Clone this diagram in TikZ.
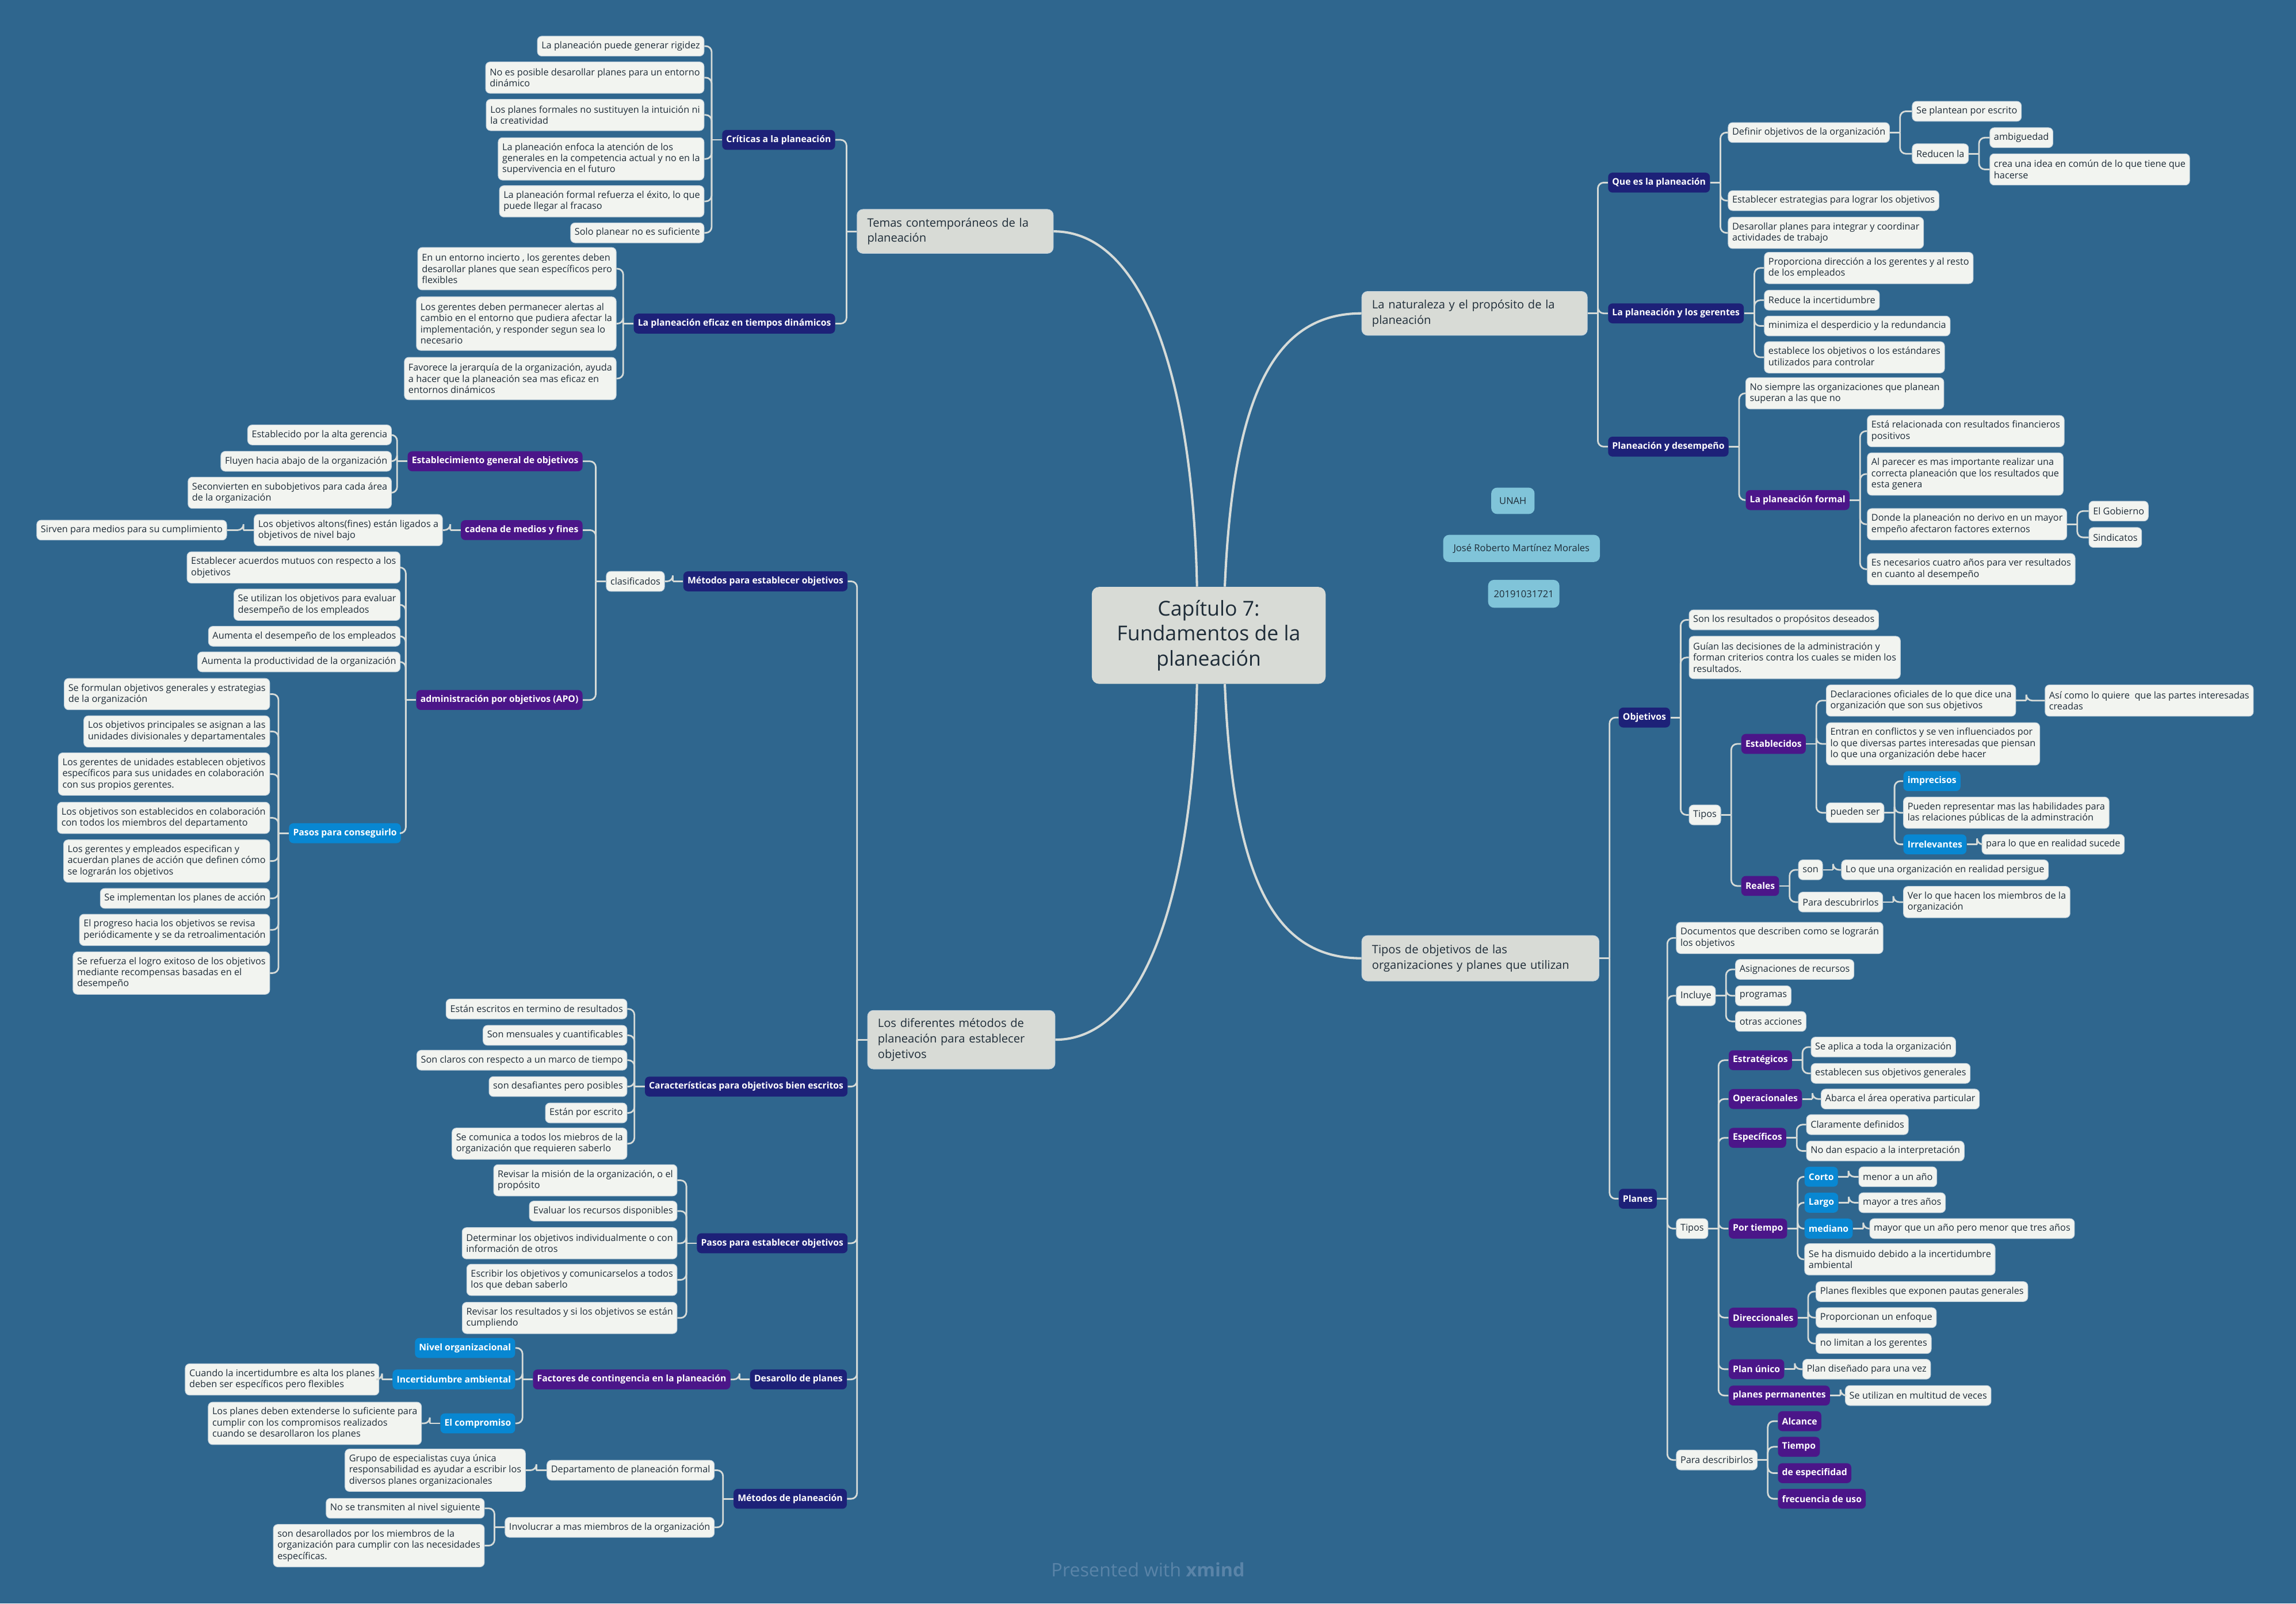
\documentclass[tikz,border=0pt]{standalone}
\usepackage{fontspec}
\setmainfont{Open Sans}
\definecolor{bg}{RGB}{47,102,142}
\definecolor{leaf}{RGB}{242,244,240}
\definecolor{leafedge}{RGB}{196,210,220}
\definecolor{ink}{RGB}{30,44,56}
\definecolor{navy}{RGB}{29,33,120}
\definecolor{purp}{RGB}{75,22,137}
\definecolor{sky}{RGB}{8,135,210}
\definecolor{topicfill}{RGB}{216,219,214}
\definecolor{cyanbox}{RGB}{128,196,217}
\definecolor{linec}{RGB}{214,219,216}
\definecolor{mark}{RGB}{90,132,168}
% connectors: vertical bus 7pt beside the parent, rounded turns into each child
\newcommand\kidsL[2]{\draw[conn] (#1.west) -- ++(-7,0);
  \foreach \c in {#2}{\draw[conn] ([xshift=-7pt]#1.west) |- (\c.east);}}
\newcommand\kidsR[2]{\draw[conn] (#1.east) -- ++(7,0);
  \foreach \c in {#2}{\draw[conn] ([xshift=7pt]#1.east) |- (\c.west);}}
\begin{document}
\begin{tikzpicture}[x=1pt,y=-1pt,
  every node/.style={inner xsep=2.8pt, inner ysep=0pt, align=left, rounded corners=3pt},
  leaf/.style={fill=leaf, draw=leafedge, line width=0.4pt, text=ink, font=\fontsize{6.4}{7.6}\selectfont},
  hub/.style={text=white, font=\fontsize{6.2}{7.6}\selectfont\bfseries},
  navyb/.style={hub, fill=navy},
  purpb/.style={hub, fill=purp},
  skyb/.style={hub, fill=sky},
  topic/.style={fill=topicfill, draw=leafedge, line width=0.4pt, text=ink, inner xsep=7pt,
    rounded corners=4pt, font=\fontsize{7.9}{10.5}\selectfont},
  tag/.style={fill=cyanbox, text=ink, align=center, rounded corners=4pt, font=\fontsize{6.5}{7.6}\selectfont},
  n1/.style={minimum height=13.6pt},
  n2/.style={minimum height=21.4pt},
  n3/.style={minimum height=29pt},
  n4/.style={minimum height=36.6pt},
  L/.style={anchor=east},
  R/.style={anchor=west},
  conn/.style={draw=linec, line width=1.1pt, rounded corners=4pt},
  mainc/.style={draw=linec, line width=1.6pt}]
\fill[bg] (0,0) rectangle (1568,1095);
\useasboundingbox (0,0) rectangle (1568,1095);

% ---------- centre ----------
\node[fill=topicfill, text=ink, align=center, rounded corners=5pt, minimum width=159.7pt, minimum height=66.2pt,
  font=\fontsize{14}{17}\selectfont] (ctr) at (825.45,433.9) {Capítulo 7:\\Fundamentos de la\\planeación};

\node[tag, minimum width=29.6pt, minimum height=18pt] (unah) at (1033.2,342) {UNAH};
\node[tag, minimum width=107pt, minimum height=18.5pt] (autor) at (1039.1,374.5) {José Roberto Martínez Morales};
\node[tag, minimum width=48.7pt, minimum height=19pt] (cuenta) at (1040.6,405.5) {20191031721};

% ---------- main topics ----------
\node[topic, text width=120pt, minimum height=30pt] (T1) at (652.3,158) {Temas contemporáneos de la\\planeación};
\node[topic, text width=114pt, minimum height=40pt] (T2) at (656.5,710) {Los diferentes métodos de\\planeación para establecer\\objetivos};
\node[topic, text width=140pt, minimum height=30pt] (T3) at (1007,214) {La naturaleza y el propósito de la\\planeación};
\node[topic, text width=148pt, minimum height=31pt] (T4) at (1011,654.4) {Tipos de objetivos de las\\organizaciones y planes que utilizan};

\draw[mainc] ([xshift=-8pt]ctr.north) .. controls (815,270) and (785,158) .. (T1.east);
\draw[mainc] ([xshift=11pt]ctr.north) .. controls (842,270) and (870,214) .. (T3.west);
\draw[mainc] ([xshift=-8pt]ctr.south) .. controls (815,600) and (785,710) .. (T2.east);
\draw[mainc] ([xshift=11pt]ctr.south) .. controls (842,600) and (870,654.4) .. (T4.west);

% ---------- Temas contemporáneos ----------
\node[navyb,n1,L] (cr) at (570.5,95.5) {Críticas a la planeación};
\node[leaf,n1,L] (cr1) at (481,31.5) {La planeación puede generar rigidez};
\node[leaf,n2,L] (cr2) at (481,53) {No es posible desarollar planes para un entorno\\dinámico};
\node[leaf,n2,L] (cr3) at (481,78.5) {Los planes formales no sustituyen la intuición ni\\la creatividad};
\node[leaf,n3,L] (cr4) at (481,108.5) {La planeación enfoca la atención de los\\generales en la competencia actual y no en la\\supervivencia en el futuro};
\node[leaf,n2,L] (cr5) at (481,137.5) {La planeación formal refuerza el éxito, lo que\\puede llegar al fracaso};
\node[leaf,n1,L] (cr6) at (481,159) {Solo planear no es suficiente};
\node[navyb,n1,L] (ef) at (570.5,221) {La planeación eficaz en tiempos dinámicos};
\node[leaf,n3,L] (ef1) at (421,183.5) {En un entorno incierto , los gerentes deben\\desarollar planes que sean específicos pero\\flexibles};
\node[leaf,n4,L] (ef2) at (421,221) {Los gerentes deben permanecer alertas al\\cambio en el entorno que pudiera afectar la\\implementación, y responder segun sea lo\\necesario};
\node[leaf,n3,L] (ef3) at (421,258.5) {Favorece la jerarquía de la organización, ayuda\\a hacer que la planeación sea mas eficaz en\\entornos dinámicos};
\kidsL{T1}{cr,ef}
\kidsL{cr}{cr1,cr2,cr3,cr4,cr5,cr6}
\kidsL{ef}{ef1,ef2,ef3}

% ---------- Los diferentes métodos ----------
\node[navyb,n1,L] (me) at (579,397) {Métodos para establecer objetivos};
\node[leaf,n1,L] (cl) at (454,397) {clasificados};
\node[purpb,n1,L] (eg) at (398,315) {Establecimiento general de objetivos};
\node[leaf,n1,L] (eg1) at (267.5,297) {Establecido por la alta gerencia};
\node[leaf,n1,L] (eg2) at (267.5,315) {Fluyen hacia abajo de la organización};
\node[leaf,n2,L] (eg3) at (267.5,336.5) {Seconvierten en subobjetivos para cada área\\de la organización};
\node[purpb,n1,L] (cm) at (398,362) {cadena de medios y fines};
\node[leaf,n2,L] (cm1) at (302.4,362) {Los objetivos altons(fines) están ligados a\\objetivos de nivel bajo};
\node[leaf,n1,L] (cm2) at (155,362) {Sirven para medios para su cumplimiento};
\node[purpb,n1,L] (apo) at (398,478) {administración por objetivos (APO)};
\node[leaf,n2,L] (ap1) at (273.5,387.5) {Establecer acuerdos mutuos con respecto a los\\objetivos};
\node[leaf,n2,L] (ap2) at (273.5,413) {Se utilizan los objetivos para evaluar\\desempeño de los empleados};
\node[leaf,n1,L] (ap3) at (273.5,434.5) {Aumenta el desempeño de los empleados};
\node[leaf,n1,L] (ap4) at (273.5,452) {Aumenta la productividad de la organización};
\node[skyb,n1,L] (ps) at (274,569) {Pasos para conseguirlo};
\node[leaf,n2,L] (ps1) at (184.4,474) {Se formulan objetivos generales y estrategias\\de la organización};
\node[leaf,n2,L] (ps2) at (184.4,499.5) {Los objetivos principales se asignan a las\\unidades divisionales y departamentales};
\node[leaf,n3,L] (ps3) at (184.4,528.6) {Los gerentes de unidades establecen objetivos\\específicos para sus unidades en colaboración\\con sus propios gerentes.};
\node[leaf,n2,L] (ps4) at (184.4,558.5) {Los objetivos son establecidos en colaboración\\con todos los miembros del departamento};
\node[leaf,n3,L] (ps5) at (184.4,588) {Los gerentes y empleados especifican y\\acuerdan planes de acción que definen cómo\\se lograrán los objetivos};
\node[leaf,n1,L] (ps6) at (184.4,613.5) {Se implementan los planes de acción};
\node[leaf,n2,L] (ps7) at (184.4,635) {El progreso hacia los objetivos se revisa\\periódicamente y se da retroalimentación};
\node[leaf,n3,L] (ps8) at (184.4,664.5) {Se refuerza el logro exitoso de los objetivos\\mediante recompensas basadas en el\\desempeño};

\node[navyb,n1,L] (ca) at (579,742) {Características para objetivos bien escritos};
\node[leaf,n1,L] (ca1) at (428.4,689) {Están escritos en termino de resultados};
\node[leaf,n1,L] (ca2) at (428.4,707) {Son mensuales y cuantificables};
\node[leaf,n1,L] (ca3) at (428.4,724) {Son claros con respecto a un marco de tiempo};
\node[leaf,n1,L] (ca4) at (428.4,742) {son desafiantes pero posibles};
\node[leaf,n1,L] (ca5) at (428.4,760) {Están por escrito};
\node[leaf,n2,L] (ca6) at (428.4,781) {Se comunica a todos los miebros de la\\organización que requieren saberlo};

\node[navyb,n1,L] (pe) at (579,849) {Pasos para establecer objetivos};
\node[leaf,n2,L] (pe1) at (462.6,806) {Revisar la misión de la organización, o el\\propósito};
\node[leaf,n1,L] (pe2) at (462.6,827) {Evaluar los recursos disponibles};
\node[leaf,n2,L] (pe3) at (462.6,849) {Determinar los objetivos individualmente o con\\información de otros};
\node[leaf,n2,L] (pe4) at (462.6,874) {Escribir los objetivos y comunicarselos a todos\\los que deban saberlo};
\node[leaf,n2,L] (pe5) at (462.6,900) {Revisar los resultados y si los objetivos se están\\cumpliendo};

\node[navyb,n1,L] (dp) at (578.5,942) {Desarollo de planes};
\node[purpb,n1,L] (fc) at (499,942) {Factores de contingencia en la planeación};
\node[skyb,n1,L] (fc1) at (352,920.5) {Nivel organizacional};
\node[skyb,n1,L] (fc2) at (352,942) {Incertidumbre ambiental};
\node[leaf,n2,L] (fc2a) at (259,942) {Cuando la incertidumbre es alta los planes\\deben ser específicos pero flexibles};
\node[skyb,n1,L] (fc3) at (352,972) {El compromiso};
\node[leaf,n3,L] (fc3a) at (288,972) {Los planes deben extenderse lo suficiente para\\cumplir con los compromisos realizados\\cuando se desarollaron los planes};

\node[navyb,n1,L] (mp) at (578.5,1023.5) {Métodos de planeación};
\node[leaf,n1,L] (mp1) at (488,1004) {Departamento de planeación formal};
\node[leaf,n3,L] (mp1a) at (359,1004) {Grupo de especialistas cuya única\\responsabilidad es ayudar a escribir los\\diversos planes organizacionales};
\node[leaf,n1,L] (mp2) at (488,1043) {Involucrar a mas miembros de la organización};
\node[leaf,n1,L] (mp2a) at (331,1030) {No se transmiten al nivel siguiente};
\node[leaf,n3,L] (mp2b) at (331,1055.5) {son desarollados por los miembros de la\\organización para cumplir con las necesidades\\específicas.};

\kidsL{T2}{me,ca,pe,dp,mp}
\kidsL{me}{cl}
\kidsL{cl}{eg,cm,apo}
\kidsL{eg}{eg1,eg2,eg3}
\kidsL{cm}{cm1}
\kidsL{cm1}{cm2}
\kidsL{apo}{ap1,ap2,ap3,ap4,ps}
\kidsL{ps}{ps1,ps2,ps3,ps4,ps5,ps6,ps7,ps8}
\kidsL{ca}{ca1,ca2,ca3,ca4,ca5,ca6}
\kidsL{pe}{pe1,pe2,pe3,pe4,pe5}
\kidsL{dp}{fc}
\kidsL{fc}{fc1,fc2,fc3}
\kidsL{fc2}{fc2a}
\kidsL{fc3}{fc3a}
\kidsL{mp}{mp1,mp2}
\kidsL{mp1}{mp1a}
\kidsL{mp2}{mp2a,mp2b}

% ---------- La naturaleza y el propósito ----------
\node[navyb,n1,R] (qe) at (1098,124.7) {Que es la planeación};
\node[leaf,n1,R] (qe1) at (1180,90.5) {Definir objetivos de la organización};
\node[leaf,n1,R] (qe1a) at (1305.7,76) {Se plantean por escrito};
\node[leaf,n1,R] (qe1b) at (1305.7,105) {Reducen la};
\node[leaf,n1,R] (qe1b1) at (1358.7,94) {ambiguedad};
\node[leaf,n2,R] (qe1b2) at (1358.7,115.7) {crea una idea en común de lo que tiene que\\hacerse};
\node[leaf,n1,R] (qe2) at (1180,137) {Establecer estrategias para lograr los objetivos};
\node[leaf,n2,R] (qe3) at (1180,159) {Desarollar planes para integrar y coordinar\\actividades de trabajo};
\node[navyb,n1,R] (lg) at (1098,214) {La planeación y los gerentes};
\node[leaf,n2,R] (lg1) at (1204.7,183) {Proporciona dirección a los gerentes y al resto\\de los empleados};
\node[leaf,n1,R] (lg2) at (1204.7,205) {Reduce la incertidumbre};
\node[leaf,n1,R] (lg3) at (1204.7,222.6) {minimiza el desperdicio y la redundancia};
\node[leaf,n2,R] (lg4) at (1204.7,244) {establece los objetivos o los estándares\\utilizados para controlar};
\node[navyb,n1,R] (pd) at (1098,305) {Planeación y desempeño};
\node[leaf,n2,R] (pd1) at (1192,268.6) {No siempre las organizaciones que planean\\superan a las que no};
\node[purpb,n1,R] (pf) at (1192,341.5) {La planeación formal};
\node[leaf,n2,R] (pf1) at (1275,294.4) {Está relacionada con resultados financieros\\positivos};
\node[leaf,n3,R] (pf2) at (1275,323.7) {Al parecer es mas importante realizar una\\correcta planeación que los resultados que\\esta genera};
\node[leaf,n2,R] (pf3) at (1275,358) {Donde la planeación no derivo en un mayor\\empeño afectaron factores externos};
\node[leaf,n1,R] (pf3a) at (1426.4,349) {El Gobierno};
\node[leaf,n1,R] (pf3b) at (1426.4,367) {Sindicatos};
\node[leaf,n2,R] (pf4) at (1275,388.7) {Es necesarios cuatro años para ver resultados\\en cuanto al desempeño};

\kidsR{T3}{qe,lg,pd}
\kidsR{qe}{qe1,qe2,qe3}
\kidsR{qe1}{qe1a,qe1b}
\kidsR{qe1b}{qe1b1,qe1b2}
\kidsR{lg}{lg1,lg2,lg3,lg4}
\kidsR{pd}{pd1,pf}
\kidsR{pf}{pf1,pf2,pf3,pf4}
\kidsR{pf3}{pf3a,pf3b}

% ---------- Tipos de objetivos y planes ----------
\node[navyb,n1,R] (ob) at (1105.3,490) {Objetivos};
\node[leaf,n1,R] (ob1) at (1153.3,423.3) {Son los resultados o propósitos deseados};
\node[leaf,n3,R] (ob2) at (1153.3,449) {Guían las decisiones de la administración y\\forman criterios contra los cuales se miden los\\resultados.};
\node[leaf,n1,R] (ob3) at (1153.3,556.5) {Tipos};
\node[purpb,n1,R] (es) at (1189,508) {Establecidos};
\node[leaf,n2,R] (es1) at (1247,478.4) {Declaraciones oficiales de lo que dice una\\organización que son sus objetivos};
\node[leaf,n2,R] (es1a) at (1396.4,478.4) {Así como lo quiere\ \ que las partes interesadas\\creadas};
\node[leaf,n3,R] (es2) at (1247,508) {Entran en conflictos y se ven influenciados por\\lo que diversas partes interesadas que piensan\\lo que una organización debe hacer};
\node[leaf,n1,R] (es3) at (1247,555) {pueden ser};
\node[skyb,n1,R] (es3a) at (1299.7,533.4) {imprecisos};
\node[leaf,n2,R] (es3b) at (1299.7,555) {Pueden representar mas las habilidades para\\las relaciones públicas de la adminstración};
\node[skyb,n1,R] (es3c) at (1299.7,576.6) {Irrelevantes};
\node[leaf,n1,R] (es3c1) at (1353.3,576.6) {para lo que en realidad sucede};
\node[purpb,n1,R] (re) at (1189,605) {Reales};
\node[leaf,n1,R] (re1) at (1228,594) {son};
\node[leaf,n1,R] (re1a) at (1257.4,594) {Lo que una organización en realidad persigue};
\node[leaf,n1,R] (re2) at (1228,616) {Para descubrirlos};
\node[leaf,n2,R] (re2a) at (1299.7,616) {Ver lo que hacen los miembros de la\\organización};

\node[navyb,n1,R] (pl) at (1105.3,818.6) {Planes};
\node[leaf,n2,R] (pl1) at (1144.6,640.5) {Documentos que describen como se lograrán\\los objetivos};
\node[leaf,n1,R] (pl2) at (1144.6,680) {Incluye};
\node[leaf,n1,R] (pl2a) at (1185,662) {Asignaciones de recursos};
\node[leaf,n1,R] (pl2b) at (1185,680) {programas};
\node[leaf,n1,R] (pl2c) at (1185,697.5) {otras acciones};
\node[leaf,n1,R] (pl3) at (1144.6,839) {Tipos};
\node[purpb,n1,R] (st) at (1180.4,724) {Estratégicos};
\node[leaf,n1,R] (st1) at (1236.6,715) {Se aplica a toda la organización};
\node[leaf,n1,R] (st2) at (1236.6,733) {establecen sus objetivos generales};
\node[purpb,n1,R] (op) at (1180.4,750.5) {Operacionales};
\node[leaf,n1,R] (op1) at (1243.5,750.5) {Abarca el área operativa particular};
\node[purpb,n1,R] (sp) at (1180.4,777) {Específicos};
\node[leaf,n1,R] (sp1) at (1233.5,768) {Claramente definidos};
\node[leaf,n1,R] (sp2) at (1233.5,786) {No dan espacio a la interpretación};
\node[purpb,n1,R] (pt) at (1180.4,839) {Por tiempo};
\node[skyb,n1,R] (pt1) at (1232.2,803.6) {Corto};
\node[leaf,n1,R] (pt1a) at (1269.2,803.6) {menor a un año};
\node[skyb,n1,R] (pt2) at (1232.2,821.3) {Largo};
\node[leaf,n1,R] (pt2a) at (1269.2,821.3) {mayor a tres años};
\node[skyb,n1,R] (pt3) at (1232.2,839) {mediano};
\node[leaf,n1,R] (pt3a) at (1276.7,839) {mayor que un año pero menor que tres años};
\node[leaf,n2,R] (pt4) at (1232.2,860) {Se ha dismuido debido a la incertidumbre\\ambiental};
\node[purpb,n1,R] (di) at (1180.4,899.8) {Direccionales};
\node[leaf,n1,R] (di1) at (1240,882) {Planes flexibles que exponen pautas generales};
\node[leaf,n1,R] (di2) at (1240,899.8) {Proporcionan un enfoque};
\node[leaf,n1,R] (di3) at (1240,917.5) {no limitan a los gerentes};
\node[purpb,n1,R] (pu) at (1180.4,935) {Plan único};
\node[leaf,n1,R] (pu1) at (1230.9,935) {Plan diseñado para una vez};
\node[purpb,n1,R] (pp) at (1180.4,953) {planes permanentes};
\node[leaf,n1,R] (pp1) at (1260,953) {Se utilizan en multitud de veces};
\node[leaf,n1,R] (pl4) at (1144.6,997) {Para describirlos};
\node[purpb,n1,R] (ds1) at (1214,970.5) {Alcance};
\node[purpb,n1,R] (ds2) at (1214,988) {Tiempo};
\node[purpb,n1,R] (ds3) at (1214,1006) {de especifidad};
\node[purpb,n1,R] (ds4) at (1214,1023.5) {frecuencia de uso};

\kidsR{T4}{ob,pl}
\kidsR{ob}{ob1,ob2,ob3}
\kidsR{ob3}{es,re}
\kidsR{es}{es1,es2,es3}
\kidsR{es1}{es1a}
\kidsR{es3}{es3a,es3b,es3c}
\kidsR{es3c}{es3c1}
\kidsR{re}{re1,re2}
\kidsR{re1}{re1a}
\kidsR{re2}{re2a}
\kidsR{pl}{pl1,pl2,pl3,pl4}
\kidsR{pl2}{pl2a,pl2b,pl2c}
\kidsR{pl3}{st,op,sp,pt,di,pu,pp}
\kidsR{st}{st1,st2}
\kidsR{op}{op1}
\kidsR{sp}{sp1,sp2}
\kidsR{pt}{pt1,pt2,pt3,pt4}
\kidsR{pt1}{pt1a}
\kidsR{pt2}{pt2a}
\kidsR{pt3}{pt3a}
\kidsR{di}{di1,di2,di3}
\kidsR{pu}{pu1}
\kidsR{pp}{pp1}
\kidsR{pl4}{ds1,ds2,ds3,ds4}

% ---------- footer ----------
\node[text=mark, font=\fontsize{12.7}{14}\selectfont, inner sep=0pt] (pie) at (784,1072) {Presented with \textbf{xmind}};
\end{tikzpicture}
\end{document}
